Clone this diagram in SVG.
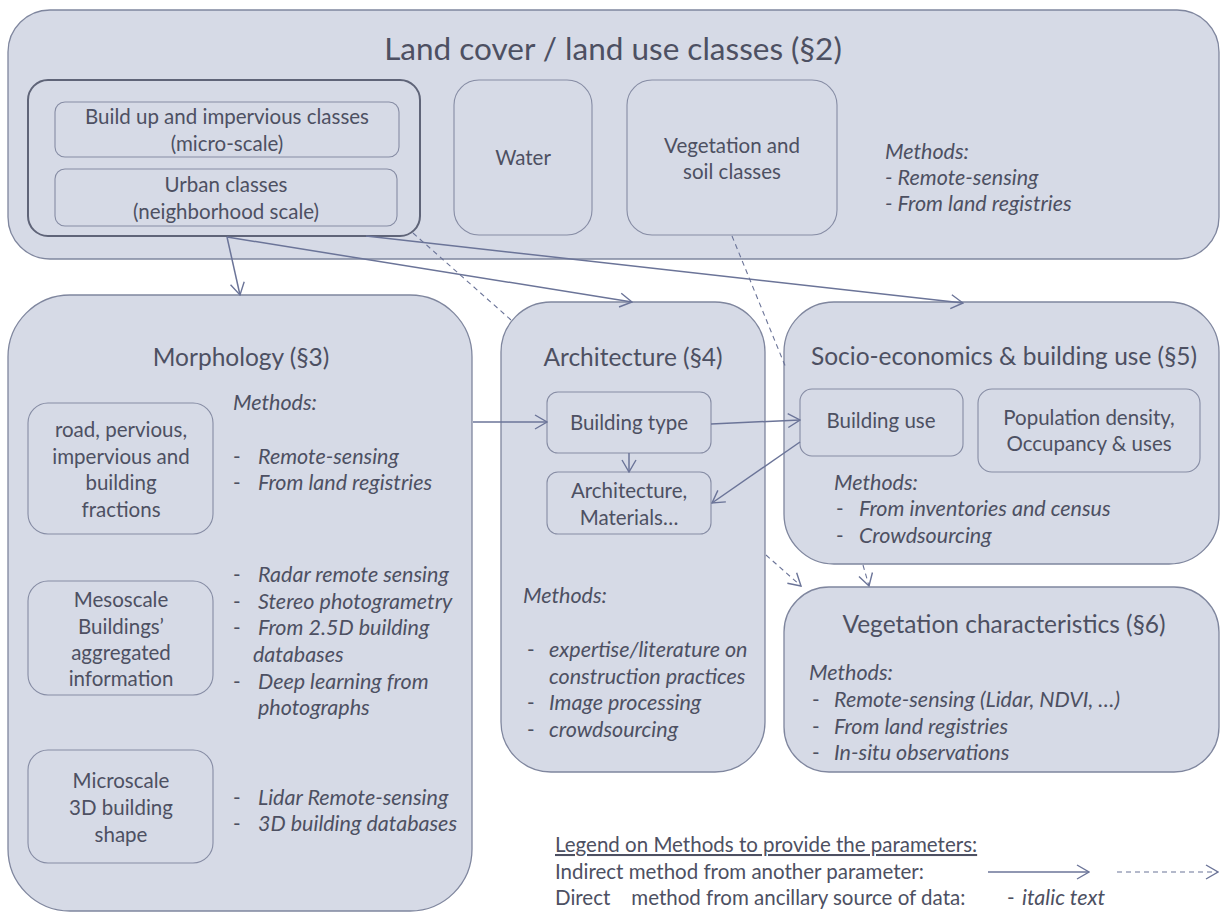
<svg xmlns="http://www.w3.org/2000/svg" width="1224" height="913" viewBox="0 0 1224 913">
<defs>
<style>
.box{fill:#d6dae6;stroke:#7f869e;stroke-width:1.3}
.sub{fill:#d6dae6;stroke:#868ca4;stroke-width:1.1}
.grp{fill:none;stroke:#5f6478;stroke-width:2}
text{font-family:Lato,"Open Sans","Liberation Sans",sans-serif;fill:#4d5062;font-size:20.5px}
.c{text-anchor:middle}
.i{font-style:italic;font-size:21.5px}
.t1{font-size:31.5px}
.t2{font-size:24.5px}
.ln{fill:none;stroke:#6b7498;stroke-width:1.5}
.ds{stroke-dasharray:5 4;stroke-width:1.1}
</style>
<marker id="ah" viewBox="0 0 14 16" refX="13" refY="8" markerWidth="14" markerHeight="16" markerUnits="userSpaceOnUse" orient="auto">
<path d="M1,1 L13,8 L1,15" fill="none" stroke="#6b7498" stroke-width="1.4"/>
</marker>
</defs>

<g id="landcover">
<rect class="box" x="8" y="10" width="1211" height="249" rx="42"/>
<text class="c t1" x="613" y="60">Land cover / land use classes (§2)</text>
<text class="i" x="885" y="159">Methods:</text>
<text class="i" x="885" y="185">- Remote-sensing</text>
<text class="i" x="885" y="211">- From land registries</text>
</g>
<g id="urban-group">
<rect class="grp" x="28" y="80" width="392" height="156" rx="20"/>
</g>
<g id="buildup">
<rect class="sub" x="55" y="102" width="344" height="55" rx="10"/>
<text class="c" x="227" y="124">Build up and impervious classes</text>
<text class="c" x="227" y="151">(micro-scale)</text>
</g>
<g id="urbanclasses">
<rect class="sub" x="55" y="169" width="342" height="57" rx="10"/>
<text class="c" x="226" y="192">Urban classes</text>
<text class="c" x="226" y="219">(neighborhood scale)</text>
</g>
<g id="water">
<rect class="sub" x="454" y="80" width="138" height="155" rx="25"/>
<text class="c" x="523" y="165">Water</text>
</g>
<g id="vegclasses">
<rect class="sub" x="627" y="80" width="210" height="155" rx="25"/>
<text class="c" x="732" y="153">Vegetation and</text>
<text class="c" x="732" y="179">soil classes</text>
</g>

<g id="morphology">
<rect class="box" x="8" y="295" width="464" height="616" rx="62"/>
<text class="c t2" x="241" y="366">Morphology (§3)</text>
<text class="i" x="233" y="410">Methods:</text>
<text x="233" y="464">-</text><text class="i" x="258" y="464">Remote-sensing</text>
<text x="233" y="490">-</text><text class="i" x="258" y="490">From land registries</text>
<text x="233" y="582">-</text><text class="i" x="258" y="582">Radar remote sensing</text>
<text x="233" y="609">-</text><text class="i" x="258" y="609">Stereo photogrametry</text>
<text x="233" y="635">-</text><text class="i" x="258" y="635">From 2.5D building</text>
<text class="i" x="253" y="662">databases</text>
<text x="233" y="689">-</text><text class="i" x="258" y="689">Deep learning from</text>
<text class="i" x="258" y="715">photographs</text>
<text x="233" y="805">-</text><text class="i" x="258" y="805">Lidar Remote-sensing</text>
<text x="233" y="831">-</text><text class="i" x="258" y="831">3D building databases</text>
</g>
<g id="fractions">
<rect class="sub" x="28" y="403" width="185" height="131" rx="20"/>
<text class="c" x="121" y="437">road, pervious,</text>
<text class="c" x="121" y="464">impervious and</text>
<text class="c" x="121" y="490">building</text>
<text class="c" x="121" y="517">fractions</text>
</g>
<g id="mesoscale">
<rect class="sub" x="28" y="581" width="185" height="114" rx="20"/>
<text class="c" x="121" y="607">Mesoscale</text>
<text class="c" x="121" y="634">Buildings’</text>
<text class="c" x="121" y="660">aggregated</text>
<text class="c" x="121" y="686">information</text>
</g>
<g id="microscale">
<rect class="sub" x="28" y="750" width="185" height="113" rx="20"/>
<text class="c" x="121" y="788">Microscale</text>
<text class="c" x="121" y="815">3D building</text>
<text class="c" x="121" y="842">shape</text>
</g>

<g id="architecture">
<rect class="box" x="501" y="302" width="264" height="470" rx="50"/>
<text class="c t2" x="633" y="366">Architecture (§4)</text>
<text class="i" x="523" y="603">Methods:</text>
<text x="527" y="657">-</text><text class="i" x="549" y="657">expertise/literature on</text>
<text class="i" x="549" y="684">construction practices</text>
<text x="527" y="710">-</text><text class="i" x="549" y="710">Image processing</text>
<text x="527" y="737">-</text><text class="i" x="549" y="737">crowdsourcing</text>
</g>
<g id="buildingtype">
<rect class="sub" x="547" y="392" width="164" height="61" rx="11"/>
<text class="c" x="629" y="430">Building type</text>
</g>
<g id="materials">
<rect class="sub" x="547" y="472" width="164" height="62" rx="11"/>
<text class="c" x="629" y="498">Architecture,</text>
<text class="c" x="629" y="525">Materials…</text>
</g>

<g id="socio">
<rect class="box" x="784" y="302" width="435" height="262" rx="50"/>
<text class="c t2" x="1004" y="365">Socio-economics &amp; building use (§5)</text>
<text class="i" x="834" y="490">Methods:</text>
<text x="836" y="516">-</text><text class="i" x="859" y="516">From inventories and census</text>
<text x="836" y="543">-</text><text class="i" x="859" y="543">Crowdsourcing</text>
</g>
<g id="buildinguse">
<rect class="sub" x="800" y="389" width="163" height="67" rx="12"/>
<text class="c" x="881" y="428">Building use</text>
</g>
<g id="population">
<rect class="sub" x="978" y="389" width="222" height="83" rx="14"/>
<text class="c" x="1089" y="425">Population density,</text>
<text class="c" x="1089" y="451">Occupancy &amp; uses</text>
</g>

<g id="vegchar">
<rect class="box" x="784" y="587" width="435" height="185" rx="45"/>
<text class="c t2" x="1004" y="633">Vegetation characteristics (§6)</text>
<text class="i" x="809" y="680">Methods:</text>
<text x="812" y="707">-</text><text class="i" x="834" y="707">Remote-sensing (Lidar, NDVI, …)</text>
<text x="812" y="734">-</text><text class="i" x="834" y="734">From land registries</text>
<text x="812" y="760">-</text><text class="i" x="834" y="760">In-situ observations</text>
</g>

<g id="connectors">
<line class="ln" x1="227" y1="237" x2="240" y2="295" marker-end="url(#ah)"/>
<line class="ln" x1="227" y1="237" x2="632" y2="302" marker-end="url(#ah)"/>
<line class="ln" x1="366" y1="236" x2="963" y2="303" marker-end="url(#ah)"/>
<line class="ln ds" x1="413" y1="233" x2="511" y2="320"/>
<line class="ln ds" x1="732" y1="236" x2="786" y2="368"/>
<line class="ln" x1="473" y1="422" x2="547" y2="422" marker-end="url(#ah)"/>
<line class="ln" x1="711" y1="424" x2="800" y2="420" marker-end="url(#ah)"/>
<line class="ln" x1="800" y1="442" x2="712" y2="503" marker-end="url(#ah)"/>
<line class="ln" x1="629" y1="453" x2="629" y2="472" marker-end="url(#ah)"/>
<line class="ln ds" x1="766" y1="555" x2="801" y2="586" marker-end="url(#ah)"/>
<line class="ln ds" x1="863" y1="565" x2="869" y2="586" marker-end="url(#ah)"/>
</g>

<g id="legend">
<text x="555" y="852" text-decoration="underline">Legend on Methods to provide the parameters:</text>
<text x="555" y="879">Indirect method from another parameter:</text>
<text x="555" y="905" xml:space="preserve">Direct    method from ancillary source of data:</text>
<text x="1007" y="905">-</text><text class="i" x="1022" y="905">italic text</text>
<line class="ln" x1="988" y1="872" x2="1089" y2="872" marker-end="url(#ah)"/>
<line class="ln ds" x1="1117" y1="872" x2="1218" y2="872" marker-end="url(#ah)"/>
</g>
</svg>
